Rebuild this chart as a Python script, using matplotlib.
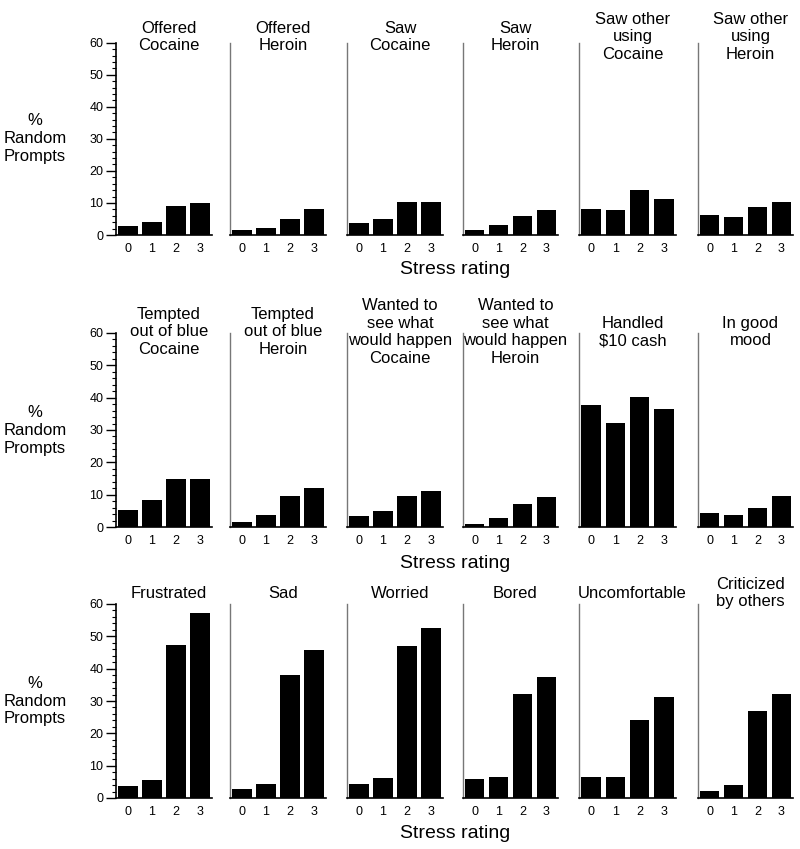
import numpy as np
import matplotlib
matplotlib.use('Agg')
import matplotlib.pyplot as plt
from matplotlib.ticker import MultipleLocator

plt.rcParams['font.family'] = ['Liberation Sans', 'DejaVu Sans']

ratings = [0, 1, 2, 3]
tick_labels = ['0', '1', '2', '3']

titles = [
    ['Offered\nCocaine', 'Offered\nHeroin', 'Saw\nCocaine', 'Saw\nHeroin',
     'Saw other\nusing\nCocaine', 'Saw other\nusing\nHeroin'],
    ['Tempted\nout of blue\nCocaine', 'Tempted\nout of blue\nHeroin',
     'Wanted to\nsee what\nwould happen\nCocaine', 'Wanted to\nsee what\nwould happen\nHeroin',
     'Handled\n$10 cash', 'In good\nmood'],
    ['Frustrated', 'Sad', 'Worried', 'Bored', 'Uncomfortable', 'Criticized\nby others'],
]

# % random prompts by stress rating 0..3
offered_cocaine = [2.8, 4.0, 9.1, 10.0]
offered_heroin = [1.5, 2.2, 5.1, 8.1]
saw_cocaine = [3.8, 5.1, 10.2, 10.2]
saw_heroin = [1.5, 3.0, 5.9, 7.7]
saw_other_cocaine = [8.2, 7.8, 14.0, 11.1]
saw_other_heroin = [6.3, 5.5, 8.8, 10.2]

tempted_cocaine = [5.3, 8.2, 14.7, 14.7]
tempted_heroin = [1.7, 3.8, 9.5, 12.1]
wanted_cocaine = [3.3, 5.1, 9.5, 11.2]
wanted_heroin = [0.9, 2.7, 7.2, 9.3]
handled_cash = [37.6, 32.1, 40.1, 36.4]
good_mood = [4.2, 3.8, 5.8, 9.6]

frustrated = [3.8, 5.5, 47.2, 57.2]
sad = [2.7, 4.2, 38.1, 45.9]
worried = [4.4, 6.2, 47.0, 52.5]
bored = [5.9, 6.6, 32.2, 37.5]
uncomfortable = [6.6, 6.6, 24.2, 31.2]
criticized = [2.3, 3.9, 26.9, 32.3]

values = [
    [offered_cocaine, offered_heroin, saw_cocaine, saw_heroin, saw_other_cocaine, saw_other_heroin],
    [tempted_cocaine, tempted_heroin, wanted_cocaine, wanted_heroin, handled_cash, good_mood],
    [frustrated, sad, worried, bored, uncomfortable, criticized],
]

W, H = 800, 849
fig = plt.figure(figsize=(W / 100, H / 100), dpi=100)

col_x = [(116, 212), (230, 326), (347, 443), (463, 558), (579, 676), (698, 793)]
row_y = [(42.7, 235), (333, 527), (604, 798)]
title_center_y = [37, 332, 593]
xlabel_y = [269, 563, 833]

for r in range(3):
    y0, y1 = row_y[r]
    for c in range(6):
        x0, x1 = col_x[c]
        ax = fig.add_axes([x0 / W, 1 - y1 / H, (x1 - x0) / W, (y1 - y0) / H])
        ax.bar(ratings, values[r][c], width=0.8, color='black')
        ax.set_xlim(-0.5, 3.5)
        ax.set_ylim(0, 60)
        ax.spines['top'].set_visible(False)
        ax.spines['right'].set_visible(False)
        ax.spines['bottom'].set_linewidth(1.2)
        ax.set_xticks(ratings)
        ax.set_xticklabels(tick_labels, fontsize=9)
        ax.tick_params(axis='x', length=0, pad=6)
        if c == 0:
            ax.yaxis.set_major_locator(MultipleLocator(10))
            ax.yaxis.set_minor_locator(MultipleLocator(2))
            ax.tick_params(axis='y', which='major', length=7, width=1, labelsize=9, pad=2)
            ax.tick_params(axis='y', which='minor', length=3, width=0.8)
            ax.spines['left'].set_linewidth(1.2)
        else:
            ax.set_yticks([])
            ax.spines['left'].set_color('#777777')
            ax.spines['left'].set_linewidth(1.0)
        fig.text((x0 + x1) / 2 / W + 5 / W, 1 - title_center_y[r] / H, titles[r][c],
                 ha='center', va='center', fontsize=12, linespacing=1.2)
    fig.text(35 / W, 1 - (y0 + y1) / 2 / H, '%\nRandom\nPrompts',
             ha='center', va='center', fontsize=12, linespacing=1.25)
    fig.text(455 / W, 1 - xlabel_y[r] / H, 'Stress rating',
             ha='center', va='center', fontsize=14)

fig.savefig('out.png', dpi=100)
